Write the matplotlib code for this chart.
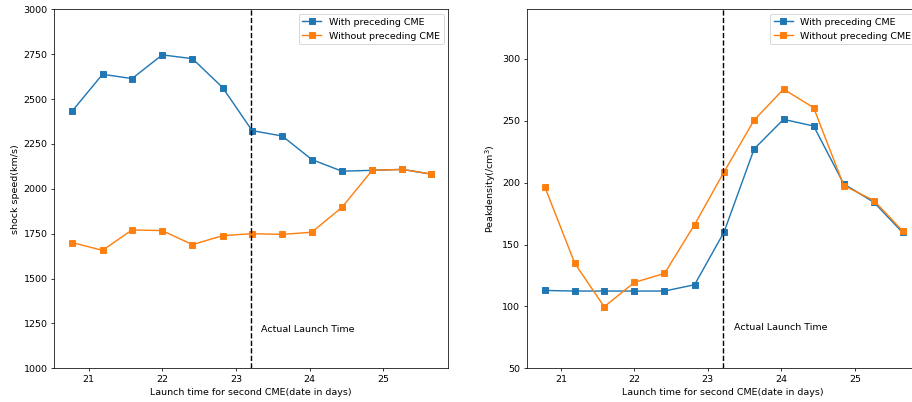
import matplotlib
matplotlib.use("Agg")
import matplotlib.pyplot as plt

launch_days = [20.78, 21.19, 21.59, 22.0, 22.41, 22.82, 23.22, 23.63, 24.03, 24.44, 24.85, 25.26, 25.65]

speed_with = [2434, 2638, 2614, 2746, 2725, 2564, 2324, 2294, 2163, 2098, 2103, 2108, 2082]
speed_without = [1700, 1657, 1771, 1767, 1689, 1739, 1750, 1746, 1758, 1897, 2103, 2108, 2082]

dens_with = [112.9, 112.4, 112.4, 112.4, 112.4, 117.5, 160.0, 227.2, 251.1, 245.7, 198.9, 184.1, 159.7]
dens_without = [196.8, 134.7, 99.7, 119.4, 126.6, 166.1, 208.6, 250.5, 275.5, 260.5, 197.6, 185.5, 161.0]

actual_launch = 23.21
xlabel = "Launch time for second CME(date in days)"
labels = ["With preceding CME", "Without preceding CME"]

DPI = 68
fig = plt.figure(figsize=(912 / DPI, 402 / DPI), dpi=DPI)
ax1 = fig.add_axes([54.3 / 912, 1 - 368.3 / 402, 394 / 912, 359 / 402])
ax2 = fig.add_axes([526.7 / 912, 1 - 368.3 / 402, 393 / 912, 359 / 402])

ax1.plot(launch_days, speed_with, marker='s', color='tab:blue', label=labels[0])
ax1.plot(launch_days, speed_without, marker='s', color='tab:orange', label=labels[1])
ax1.axvline(actual_launch, color='black', linestyle='--')
ax1.text(actual_launch + 0.13, 1217, "Actual Launch Time", va='center', ha='left')
ax1.set_ylim(1000, 3000)
ax1.set_xlabel(xlabel)
ax1.set_ylabel("shock speed(km/s)")
ax1.legend(loc='upper right')

ax2.plot(launch_days, dens_with, marker='s', color='tab:blue', label=labels[0])
ax2.plot(launch_days, dens_without, marker='s', color='tab:orange', label=labels[1])
ax2.axvline(actual_launch, color='black', linestyle='--')
ax2.text(actual_launch + 0.14, 83, "Actual Launch Time", va='center', ha='left')
ax2.set_ylim(50, 340)
ax2.set_xlabel(xlabel)
ax2.set_ylabel("Peakdensity(/cm$^3$)")
ax2.legend(loc='upper right')

for ax in (ax1, ax2):
    ax.set_xlim(20.535, 25.883)

fig.savefig("out.png", dpi=DPI)
